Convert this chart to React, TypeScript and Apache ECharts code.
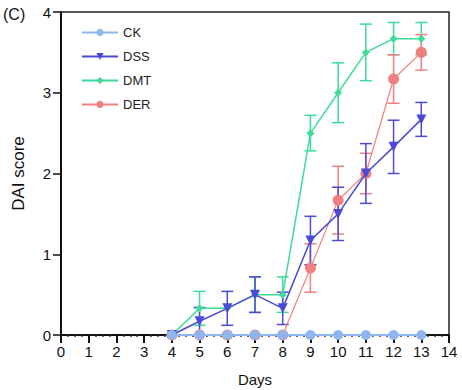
import React, { useEffect, useRef } from "react";
import * as echarts from "echarts";

const days = [4, 5, 6, 7, 8, 9, 10, 11, 12, 13];
const ckMean = [0, 0, 0, 0, 0, 0, 0, 0, 0, 0];
const dssMean = [0, 0.17, 0.33, 0.5, 0.33, 1.17, 1.5, 2.0, 2.33, 2.67];
const dssErr = [0, 0.17, 0.21, 0.22, 0.2, 0.3, 0.33, 0.37, 0.33, 0.21];
const dmtMean = [0, 0.33, 0.33, 0.5, 0.5, 2.5, 3.0, 3.5, 3.67, 3.67];
const dmtErr = [0, 0.21, 0, 0.22, 0.22, 0.22, 0.37, 0.35, 0.2, 0.2];
const derMean = [0, 0, 0, 0, 0, 0.83, 1.67, 2.0, 3.17, 3.5];
const derErr = [0, 0, 0, 0, 0, 0.3, 0.42, 0.25, 0.3, 0.22];
const xTicks = [0, 14];
const yTicks = [0, 4];

const C_CK = "#8db6ee";
const C_DSS = "#4a4ad6";
const C_DMT = "#3ddc9a";
const C_DER = "#f08080";

function pts(mean: number[]) {
  return days.map((d, i) => [d, mean[i]]);
}
function errData(mean: number[], err: number[]) {
  return days
    .map((d, i) => [d, mean[i] - err[i], mean[i] + err[i]])
    .filter((r, i) => err[i] > 0);
}
function errSeries(name: string, color: string, mean: number[], err: number[], z: number) {
  return {
    type: "custom",
    name,
    z,
    data: errData(mean, err),
    encode: { x: 0, y: [1, 2] },
    renderItem: (params: any, api: any) => {
      const x = api.value(0);
      const lo = api.coord([x, api.value(1)]);
      const hi = api.coord([x, api.value(2)]);
      const w = 6;
      const style = { stroke: color, lineWidth: 1.5, fill: "none" };
      return {
        type: "group",
        children: [
          { type: "line", shape: { x1: lo[0], y1: lo[1], x2: hi[0], y2: hi[1] }, style },
          { type: "line", shape: { x1: lo[0] - w, y1: lo[1], x2: lo[0] + w, y2: lo[1] }, style },
          { type: "line", shape: { x1: hi[0] - w, y1: hi[1], x2: hi[0] + w, y2: hi[1] }, style },
        ],
      };
    },
  };
}

export default function App() {
  const ref = useRef<HTMLDivElement>(null);
  useEffect(() => {
    if (!ref.current) return;
    const chart = echarts.init(ref.current, null, { renderer: "svg" });
    const font = "Liberation Sans";
    chart.setOption({
      animation: false,
      textStyle: { fontFamily: font },
      grid: {
        left: 61, right: 13, top: 12, bottom: 55,
        containLabel: false, outerBoundsMode: "none",
        show: true, borderColor: "#222", borderWidth: 1.5,
      },
      legend: {
        orient: "vertical",
        left: 76,
        top: 21,
        itemWidth: 36,
        itemHeight: 9,
        itemGap: 11,
        textStyle: { fontFamily: font, fontSize: 13, color: "#222" },
        data: ["CK", "DSS", "DMT", "DER"],
      },
      xAxis: {
        type: "value",
        min: xTicks[0],
        max: xTicks[1],
        interval: 1,
        name: "Days",
        nameLocation: "middle",
        nameGap: 37,
        nameTextStyle: { fontFamily: font, fontSize: 15, color: "#111" },
        axisLine: { lineStyle: { color: "#111", width: 2 } },
        axisTick: { length: 8, lineStyle: { color: "#111", width: 2 } },
        minorTick: { show: true, splitNumber: 4, length: 2, lineStyle: { color: "#333", width: 1.5 } },
        axisLabel: { fontFamily: font, fontSize: 15, color: "#111", margin: 9 },
        splitLine: { show: false },
      },
      yAxis: {
        type: "value",
        min: yTicks[0],
        max: yTicks[1],
        interval: 1,
        name: "DAI score",
        nameLocation: "middle",
        nameGap: 34,
        nameTextStyle: { fontFamily: font, fontSize: 17, color: "#111" },
        axisLine: { show: true, lineStyle: { color: "#111", width: 2 } },
        axisTick: { show: true, length: 8, lineStyle: { color: "#111", width: 1.5 } },
        axisLabel: { fontFamily: font, fontSize: 15, color: "#111", margin: 10 },
        splitLine: { show: false },
      },
      graphic: [
        { type: "text", left: 3, top: 6, style: { text: "(C)", font: `16px ${font}`, fill: "#111" } },
      ],
      series: [
        errSeries("DMT err", C_DMT, dmtMean, dmtErr, 2),
        errSeries("DER err", C_DER, derMean, derErr, 2),
        errSeries("DSS err", C_DSS, dssMean, dssErr, 3),
        {
          type: "line", name: "DMT", data: pts(dmtMean), z: 3,
          symbol: "diamond", symbolSize: 8,
          itemStyle: { color: C_DMT }, lineStyle: { color: C_DMT, width: 1.5 },
        },
        {
          type: "line", name: "DER", data: pts(derMean), z: 3,
          symbol: "circle", symbolSize: 11,
          itemStyle: { color: C_DER }, lineStyle: { color: C_DER, width: 1.2 },
        },
        {
          type: "line", name: "DSS", data: pts(dssMean), z: 4,
          symbol: "triangle", symbolRotate: 180, symbolSize: 10,
          itemStyle: { color: C_DSS }, lineStyle: { color: C_DSS, width: 1.5 },
        },
        {
          type: "line", name: "CK", data: pts(ckMean), z: 5,
          symbol: "circle", symbolSize: 10,
          itemStyle: { color: C_CK }, lineStyle: { color: C_CK, width: 2 },
        },
      ],
    });
    return () => chart.dispose();
  }, []);
  return (
    <div
      ref={ref}
      style={{ position: "fixed", left: 0, top: 0, width: 462, height: 390, background: "#fff" }}
    />
  );
}
